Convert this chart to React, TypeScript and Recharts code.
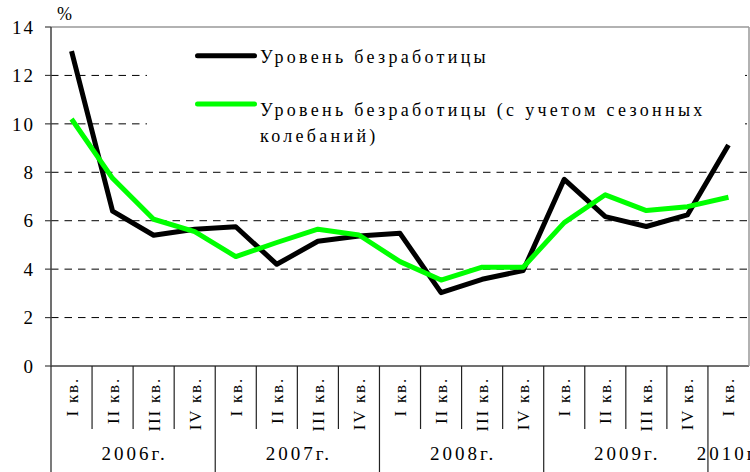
import React from 'react';
import { LineChart, Line, XAxis, YAxis, CartesianGrid, ReferenceLine, Legend } from 'recharts';

const quarters = ['I кв.', 'II кв.', 'III кв.', 'IV кв.', 'I кв.', 'II кв.', 'III кв.', 'IV кв.', 'I кв.', 'II кв.', 'III кв.', 'IV кв.', 'I кв.', 'II кв.', 'III кв.', 'IV кв.', 'I кв.'];
const years = ['2006г.', '2006г.', '2006г.', '2006г.', '2007г.', '2007г.', '2007г.', '2007г.', '2008г.', '2008г.', '2008г.', '2008г.', '2009г.', '2009г.', '2009г.', '2009г.', '2010г.'];
const unemployment = [13.0, 6.4, 5.4, 5.65, 5.75, 4.2, 5.15, 5.37, 5.48, 3.03, 3.58, 3.94, 7.71, 6.17, 5.76, 6.24, 9.13];
const seasonal = [10.2, 7.75, 6.06, 5.55, 4.52, 5.1, 5.65, 5.41, 4.31, 3.55, 4.08, 4.08, 5.92, 7.07, 6.42, 6.58, 6.97];
const yTicks = [0, 2, 4, 6, 8, 10, 12, 14];
const gridValues = [2, 4, 6, 8, 10, 12];
const seriesNames = ['Уровень безработицы', 'Уровень безработицы (с учетом сезонных колебаний)'];
const unitLabel = '%';

const W = 750;
const H = 472;
const PLOT_LEFT = 51;
const PLOT_RIGHT = 749;
const PLOT_TOP = 27;
const PLOT_BOTTOM = 366;
const BAND = (PLOT_RIGHT - PLOT_LEFT) / quarters.length;
const FONT = '"Liberation Serif", "Times New Roman", "DejaVu Serif", serif';

const data = quarters.map((q, i) => ({ key: i, quarter: q, year: years[i], a: unemployment[i], b: seasonal[i] }));

const QuarterTick = (props: any) => {
  const { x, y, payload } = props;
  const i = Number(payload.value);
  const left = x - BAND / 2;
  const isYearStart = i === 0 || years[i] !== years[i - 1];
  let yearLabel = null;
  if (isYearStart) {
    const count = years.filter((v) => v === years[i]).length;
    const cx = left + (count * BAND) / 2;
    yearLabel = (
      <text x={cx + 1.5} y={y + 94} textAnchor="middle" style={{ fontFamily: FONT, fontSize: 19, letterSpacing: 3 }} fill="#000">
        {years[i]}
      </text>
    );
  }
  return (
    <g>
      <line x1={left} x2={left} y1={y} y2={isYearStart ? H : y + 63} stroke="#222" strokeWidth={1.2} />
      <g transform={`translate(${x + 6},${y + 11}) rotate(-90)`}>
        <text x={0} y={0} textAnchor="end" style={{ fontFamily: FONT, fontSize: 17, letterSpacing: 1.8 }} fill="#000">
          {quarters[i]}
        </text>
      </g>
      {yearLabel}
    </g>
  );
};

const ValueTick = (props: any) => {
  const { x, y, payload } = props;
  return (
    <text x={x + 2} y={y} dy="0.35em" textAnchor="end" style={{ fontFamily: FONT, fontSize: 19, letterSpacing: 2 }} fill="#000">
      {payload.value}
    </text>
  );
};

const UnitLabel = (props: any) => {
  const vb = props.viewBox || { x: 0, y: PLOT_TOP, width: PLOT_LEFT };
  return (
    <text x={vb.x + vb.width + 6} y={vb.y - 7} style={{ fontFamily: FONT, fontSize: 18 }} fill="#000">
      {unitLabel}
    </text>
  );
};

const LegendBox = () => {
  const second = seriesNames[1];
  const cut = second.lastIndexOf(' ');
  const line1 = second.slice(0, cut);
  const line2 = second.slice(cut + 1);
  const textStyle = { fontFamily: FONT, fontSize: 18, letterSpacing: 3.3 } as any;
  return (
    <div style={{ width: 598, height: 105, background: '#fff', position: 'relative' }}>
      <svg width={598} height={118} style={{ position: 'absolute', left: 0, top: 0, overflow: 'visible' }}>
        <line x1={50.5} x2={107.5} y1={19.7} y2={19.7} stroke="#000" strokeWidth={5} strokeLinecap="round" />
        <text x={113} y={27} style={textStyle} fill="#000">{seriesNames[0]}</text>
        <line x1={50.5} x2={107.5} y1={68} y2={68} stroke="#00ff00" strokeWidth={5} strokeLinecap="round" />
        <text x={113} y={80} style={textStyle} fill="#000">{line1}</text>
        <text x={113} y={105.5} style={textStyle} fill="#000">{line2}</text>
      </svg>
    </div>
  );
};

export default function App() {
  return (
    <div style={{ width: W, height: H, background: '#fff', fontFamily: FONT }}>
      <style>{'body{margin:0;}'}</style>
      <LineChart width={W} height={H} data={data} margin={{ top: PLOT_TOP, right: W - PLOT_RIGHT - 1, bottom: 0, left: 0 }}>
        <CartesianGrid vertical={false} horizontalValues={gridValues} stroke="#000" strokeDasharray="7.5 6" />
        <XAxis
          dataKey="key"
          type="category"
          scale="band"
          interval={0}
          height={H - PLOT_BOTTOM}
          tickLine={false}
          tickSize={0}
          tickMargin={0}
          axisLine={{ stroke: '#404040', strokeWidth: 1.5 }}
          tick={<QuarterTick />}
        />
        <YAxis
          type="number"
          domain={[0, 14]}
          ticks={yTicks}
          interval={0}
          width={PLOT_LEFT}
          tickSize={6}
          tickMargin={12}
          tickLine={{ stroke: '#404040', strokeWidth: 1.2 }}
          axisLine={{ stroke: '#404040', strokeWidth: 1.5 }}
          tick={<ValueTick />}
          label={UnitLabel}
        />
        <YAxis
          yAxisId="right"
          orientation="right"
          type="number"
          domain={[0, 14]}
          width={1}
          tick={false}
          tickLine={false}
          axisLine={{ stroke: '#999', strokeWidth: 1.5 }}
        />
        <ReferenceLine y={14} stroke="#999" strokeWidth={1.5} />
        <Legend
          layout="horizontal"
          verticalAlign="middle"
          align="center"
          wrapperStyle={{ left: 147, top: 36, width: 598, height: 105 }}
          content={() => <LegendBox />}
        />
        <Line type="linear" dataKey="a" name={seriesNames[0]} stroke="#000" strokeWidth={5} strokeLinejoin="round" dot={false} activeDot={false} isAnimationActive={false} />
        <Line type="linear" dataKey="b" name={seriesNames[1]} stroke="#00ff00" strokeWidth={5} strokeLinejoin="round" dot={false} activeDot={false} isAnimationActive={false} />
      </LineChart>
    </div>
  );
}
